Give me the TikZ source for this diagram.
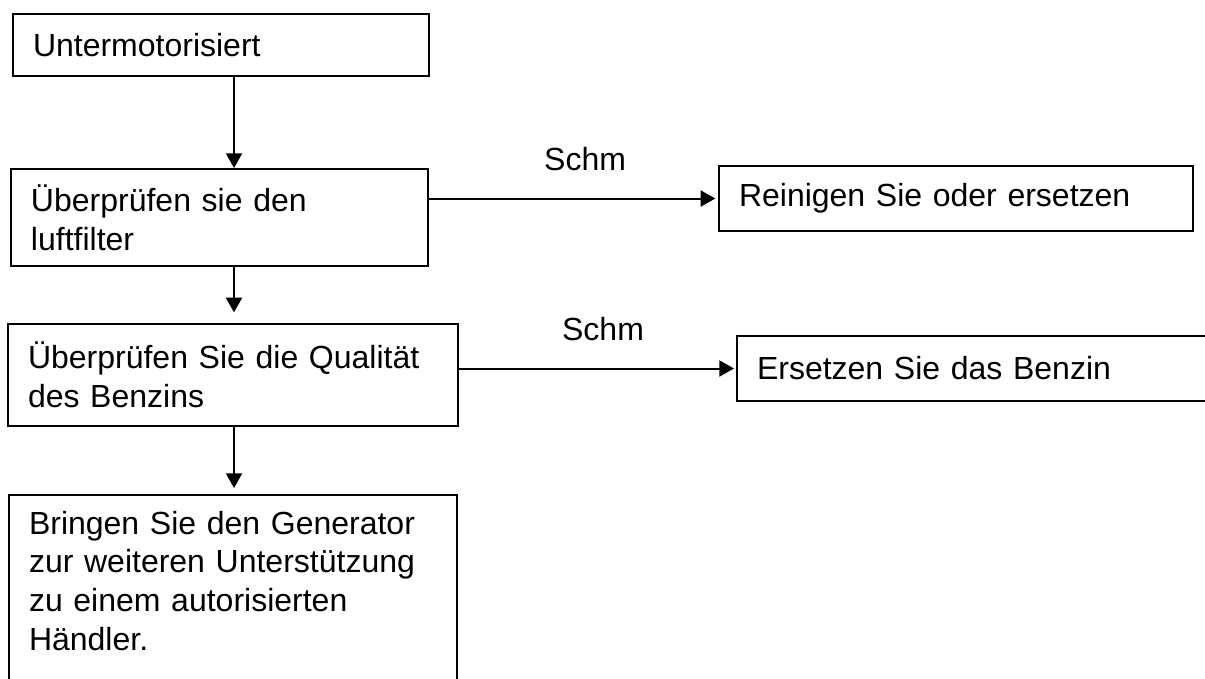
\documentclass[tikz,border=0pt]{standalone}
\usepackage{fontspec}
\setmainfont{Liberation Sans}
\usepackage{tikz}
\usetikzlibrary{arrows.meta, positioning, calc}

\begin{document}
\begin{tikzpicture}[
  x=0.75pt, y=-0.75pt,
  font=\fontsize{24pt}{29pt}\selectfont,
  box/.style={rectangle, draw=black, line width=1.5pt, anchor=north west,
    inner xsep=15pt, inner ysep=0pt, align=left},
  arr/.style={-{Triangle[length=11pt, width=12pt]}, line width=1.5pt},
  lbl/.style={above=20pt, inner sep=0pt},
]
  \useasboundingbox (0,0) rectangle (1205,678);
  \clip (0,0) rectangle (1205,678);

  % Main column
  \node[box, text width=282pt, minimum height=46.5pt] (motor) at (12,13) {Untermotorisiert};
  \node[box, text width=282.75pt, minimum height=72.75pt] (filter) at (10,168)
    {Überprüfen sie den\\luftfilter};
  \node[box, text width=307.5pt, minimum height=76.5pt] (fuel) at (7,323)
    {Überprüfen Sie die Qualität\\des Benzins};
  \node[box, text width=306pt, inner ysep=12pt] (dealer) at (8,494)
    {Bringen Sie den Generator\\zur weiteren Unterstützung\\zu einem autorisierten\\Händler.\rule[-60pt]{0pt}{60pt}};

  % Remedies
  \node[box, text width=325.5pt, minimum height=48.75pt] (clean) at (718,165) {Reinigen Sie oder ersetzen};
  \node[box, text width=400pt, minimum height=48.75pt] (swap) at (736,335) {Ersetzen Sie das Benzin};

  % Arrows
  \coordinate (axis) at (234,0);
  \draw[arr] (motor.south -| axis) -- (filter.north -| axis);
  \draw[arr, shorten >=8pt] (filter.south -| axis) -- (fuel.north -| axis);
  \draw[arr, shorten >=4.5pt] (fuel.south -| axis) -- (dealer.north -| axis);

  \draw[arr, shorten >=2pt] (filter.east |- clean.west) -- node[lbl, pos=0.54] {Schm} (clean.west);
  \draw[arr, shorten >=1.5pt] (fuel.east |- swap.west) -- node[lbl, pos=0.52] {Schm} (swap.west);
\end{tikzpicture}
\end{document}
